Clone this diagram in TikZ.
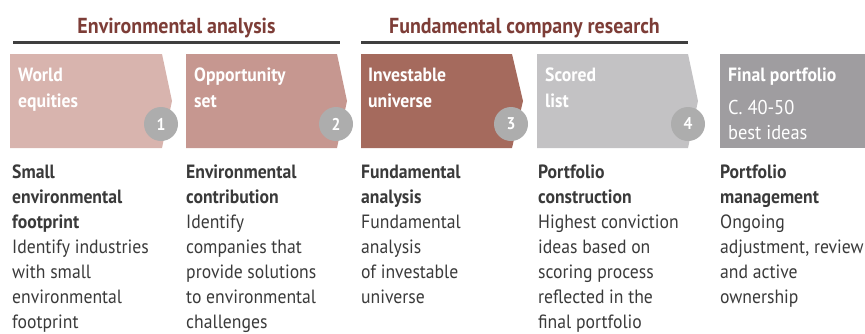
\documentclass[tikz,border=0pt]{standalone}
\usepackage{fontspec}
\setmainfont[FakeStretch=0.92]{PT Sans}
\definecolor{hdrtext}{HTML}{7D3D37}
\definecolor{hdrline}{HTML}{3F3F3F}
\definecolor{boxA}{HTML}{D8B4AE}
\definecolor{boxB}{HTML}{C69790}
\definecolor{boxC}{HTML}{A56A5D}
\definecolor{boxD}{HTML}{C3C2C4}
\definecolor{boxE}{HTML}{9F9DA0}
\definecolor{circgray}{HTML}{ADADAD}
\definecolor{bodytext}{HTML}{3A3A3A}
\newcommand\colstack[1]{\vtop{\baselineskip=25pt\lineskiplimit=-20pt\lineskip=0pt #1}}
\newcommand\boxstack[1]{\vtop{\baselineskip=26pt\lineskiplimit=-20pt\lineskip=0pt #1}}
\begin{document}
\begin{tikzpicture}[x=1pt,y=-1pt,
  hdr/.style={font=\bfseries\fontsize{21.7}{26}\selectfont, text=hdrtext, inner sep=0, anchor=base},
  hline/.style={draw=hdrline, line width=3pt},
  boxtitle/.style={font=\bfseries\fontsize{19.2}{26}\selectfont, text=white, inner sep=0, anchor=base west},
  numcirc/.style={circle, fill=circgray, minimum size=34pt, inner sep=0, text=white, font=\bfseries\fontsize{17}{17}\selectfont},
  body/.style={font=\fontsize{19.2}{25}\selectfont, text=bodytext, inner sep=0, anchor=base west}]
\useasboundingbox (0,0) rectangle (865,333);
% headers
\coordinate (l1a) at (13,42); \coordinate (l1b) at (340,42);
\coordinate (l2a) at (361,42); \coordinate (l2b) at (688,42);
\draw[hline] (l1a) -- (l1b);
\draw[hline] (l2a) -- (l2b);
\node[hdr] (h1) at (176.5,33) {Environmental analysis};
\node[hdr] (h2) at (524.5,33) {Fundamental company research};
% boxes
\fill[boxA] (10,54) -- (162,54) -- (172,101) -- (162,148) -- (10,148) -- cycle;
\fill[boxB] (186,54) -- (337,54) -- (347,101) -- (337,148) -- (186,148) -- cycle;
\fill[boxC] (361,54) -- (512,54) -- (523,101) -- (512,148) -- (361,148) -- cycle;
\fill[boxD] (537,54) -- (688,54) -- (698,101) -- (688,148) -- (537,148) -- cycle;
\fill[boxE] (720,54) rectangle (865,148);
\node[boxtitle] (t1) at (18,81) {\boxstack{\hbox{World}\hbox{equities}}};
\node[boxtitle] (t2) at (194,81) {\boxstack{\hbox{Opportunity}\hbox{set}}};
\node[boxtitle] (t3) at (368,81) {\boxstack{\hbox{Investable}\hbox{universe}}};
\node[boxtitle] (t4) at (545,81) {\boxstack{\hbox{Scored}\hbox{list}}};
\node[boxtitle] (t5) at (728,81) {Final portfolio};
\node[boxtitle, font=\fontsize{20}{25}\selectfont] (t5b) at (728,114) {\boxstack{\baselineskip=25pt\hbox{C. 40-50}\hbox{best ideas}}};
% numbers
\node[numcirc] (n1) at (161,124) {1};
\node[numcirc] (n2) at (336,124) {2};
\node[numcirc] (n3) at (511,124) {3};
\node[numcirc] (n4) at (688,124) {4};
% body text
\node[body] (b1) at (12,178) {\colstack{\hbox{\bfseries Small}\hbox{\bfseries environmental}\hbox{\bfseries footprint}\hbox{Identify industries}\hbox{with small}\hbox{environmental}\hbox{footprint}}};
\node[body] (b2) at (186,178) {\colstack{\hbox{\bfseries Environmental}\hbox{\bfseries contribution}\hbox{Identify}\hbox{companies that}\hbox{provide solutions}\hbox{to environmental}\hbox{challenges}}};
\node[body] (b3) at (361,178) {\colstack{\hbox{\bfseries Fundamental}\hbox{\bfseries analysis}\hbox{Fundamental}\hbox{analysis}\hbox{of investable}\hbox{universe}}};
\node[body] (b4) at (538,178) {\colstack{\hbox{\bfseries Portfolio}\hbox{\bfseries construction}\hbox{Highest conviction}\hbox{ideas based on}\hbox{scoring process}\hbox{reflected in the}\hbox{final portfolio}}};
\node[body] (b5) at (720,178) {\colstack{\hbox{\bfseries Portfolio}\hbox{\bfseries management}\hbox{Ongoing}\hbox{adjustment, review}\hbox{and active}\hbox{ownership}}};
\end{tikzpicture}
\end{document}
